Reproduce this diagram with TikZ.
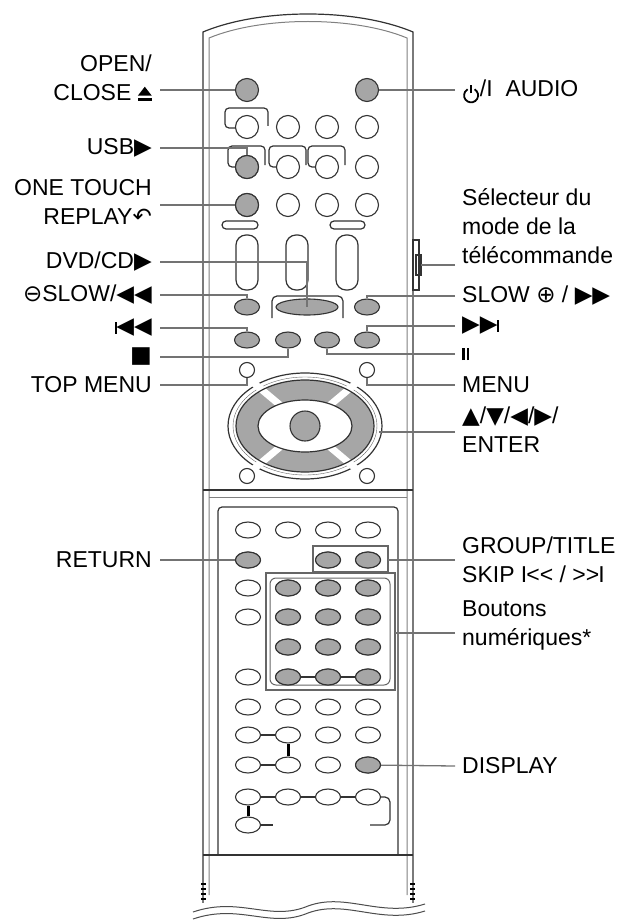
\documentclass[tikz,border=0pt]{standalone}
\usepackage{fontspec}
\setmainfont{Liberation Sans}
\newfontfamily\symf{DejaVu Sans}
\usetikzlibrary{shapes.geometric}
\newcommand{\sy}[1]{{\symf\fontsize{23}{23}\selectfont #1}}
\newcommand{\vbar}{\rule{2.5pt}{12pt}}
\newcommand{\pwr}{\tikz[baseline=-1pt,x=1pt,y=1pt,line width=1.8pt]{\draw (60:7) arc (60:-240:7);\draw (0,2) -- (0,10);}}
\newcommand{\ejectsym}{\tikz[baseline=0pt,x=1pt,y=1pt]{\fill (0,5) -- (14,5) -- (7,14) -- cycle; \fill (0,0) rectangle (14,2.5);}}
\begin{document}
\begin{tikzpicture}[x=1pt,y=-1pt,
    every node/.style={font=\fontsize{23}{29}\selectfont},
    lead/.style={draw=black!55, line width=1.3pt},
    rbtn/.style={circle, draw=black!80, line width=1.1pt, fill=white, inner sep=0pt, minimum size=23pt},
    obtn/.style={ellipse, draw=black!80, line width=1.1pt, fill=white, inner sep=0pt, minimum width=25pt, minimum height=16pt},
    gray/.style={fill=black!35},
    lbl/.style={anchor=east, align=right, inner sep=0pt},
    rlbl/.style={anchor=west, align=left, inner sep=0pt},
    body/.style={draw=black!80, line width=1.2pt}]
\useasboundingbox (0,0) rectangle (642,923);
% remote body
\draw[body] (203,907) -- (203,32) .. controls (260,8) and (356,8) .. (413,32) -- (413,907);
\draw[black!50, line width=1pt] (209,895) -- (209,38) .. controls (262,16) and (354,16) .. (407,38) -- (407,895);
\draw[body] (203,490) -- (413,490);
\draw[black!50] (209,497) -- (407,497);
\draw[body, rounded corners=4pt] (218,855) -- (218,507) -- (398,507) -- (398,855);
\draw[body] (203,855) -- (413,855);
\foreach \y in {884,889,894,899} {\draw[line width=1.3pt] (201,\y) -- (206,\y); \draw[line width=1.3pt] (410,\y) -- (415,\y);}
\fill[white] (190,903) rectangle (430,923);
\draw[black!70, line width=1pt] (193,912) .. controls (240,896) and (270,922) .. (308,906) .. controls (346,892) and (380,918) .. (425,904);
\draw[black!70, line width=1pt] (193,919) .. controls (240,903) and (270,929) .. (308,913) .. controls (346,899) and (380,925) .. (425,911);
% mode switch
\draw[body, fill=white] (413,240) rectangle (419,290);
\draw[body] (416,255) rectangle (421,275);
\coordinate (sw) at (421,265);
% top section brackets and bars
\draw[body, rounded corners=4pt] (247,128) -- (225,128) -- (225,108) -- (268,108) -- (268,126);
\foreach \x in {247,288,327} \draw[body, rounded corners=4pt] (\x,167) -- (\x-19,167) -- (\x-19,146) -- (\x+18,146) -- (\x+18,165);
\draw[body, rounded corners=4pt, fill=white] (222,221) rectangle (258,229);
\draw[body, rounded corners=4pt, fill=white] (330,221) rectangle (365,229);
\foreach \x in {247,297,347} \draw[body, rounded corners=10pt] (\x-11,235) rectangle (\x+11,290);
\draw[body, rounded corners=5pt, fill=white] (272,318) -- (272,296) -- (343,296) -- (343,318);
% top circles
\node[rbtn, gray] (t11) at (247,90) {};
\node[rbtn, gray] (t14) at (367,90) {};
\foreach \r/\y in {2/127,3/167,4/205}
  \foreach \c/\x in {1/247,2/288,3/327,4/367}
    \node[rbtn] (t\r\c) at (\x,\y) {};
\node[rbtn, gray] at (t31) {};
\node[rbtn, gray] at (t41) {};
% slow / skip ovals
\node[obtn, gray] (slowl) at (247,307) {};
\node[obtn, gray] (slowr) at (367,307) {};
\node[obtn, gray, minimum width=62pt] (dvd) at (307,307) {};
\foreach \c/\x in {1/247,2/288,3/327,4/367}
  \node[obtn, gray] (k\c) at (\x,340) {};
% cursor ring
\node[ellipse, body, fill=white, minimum width=154pt, minimum height=106pt] (ring) at (305,426) {};
\draw[black!60] (305,426) ellipse (72pt and 49pt);
\fill[black!35, even odd rule] (305,426) ellipse (69pt and 46pt) (305,426) ellipse (47pt and 26pt);
\foreach \a in {40,140,220,320} \draw[white, line width=7pt] (305,426) -- ++(\a:85pt);
\draw[body] (305,426) ellipse (47pt and 26pt);
\draw[body] (305,426) ellipse (69pt and 46pt);
\node[rbtn, gray, minimum size=30pt] (enter) at (305,426) {};
\coordinate (ringe) at (379,432);
\node[rbtn, minimum size=15pt] (tmenu) at (247,370) {};
\node[rbtn, minimum size=15pt] (menu) at (367,370) {};
\node[rbtn, minimum size=15pt] (bl) at (247,476) {};
\node[rbtn, minimum size=15pt] (br) at (367,476) {};
% bottom section
\foreach \r/\y/\cs in {1/530/{1,2,3,4},2/560/{1,3,4},3/588/{1,2,3,4},4/617/{1,2,3,4},5/647/{2,3,4},6/677/{1,2,3,4},7/707/{1,2,3,4},8/735/{1,2,3,4},9/765/{1,2,3,4},10/797/{1,2,3,4},11/825/{1}}
  \foreach \c in \cs
    \node[obtn] (b\r\c) at (208+40*\c,\y) {};
\node[obtn, gray] (ret) at (b21) {};
\node[obtn, gray] (grp1) at (b23) {};
\node[obtn, gray] (grp2) at (b24) {};
\node[obtn, gray] (disp) at (b94) {};
\draw[body] (b62) -- (b63) -- (b64);
\draw[body] (b81) -- (b82);
\draw[body] (b91) -- (b92);
\draw[line width=3pt] (b82.south) -- (b92.north);
\draw[body] (b101) -- (b102) -- (b103) -- (b104);
\draw[line width=3pt] (b101.south) -- (b111.north);
\draw[body] (b111.east) -- ++(12,0);
\draw[body, rounded corners=5pt] (b104.east) -- (390,797) -- (390,825) -- (370,825);
\draw[black!60, line width=1.5pt] (313,546) rectangle (388,572);
\draw[black!60, line width=1.5pt] (266,573) rectangle (395,690);
\draw[black!60, rounded corners=6pt, line width=1pt] (270,578) rectangle (390,685);
\foreach \r in {3,4,5,6} \foreach \c in {2,3,4} \node[obtn, gray] at (b\r\c) {};
% left labels
\node[lbl] (lopen) at (152,78) {OPEN/\\CLOSE \ejectsym};
\node[lbl] (lusb) at (152,148) {USB\sy{▶}};
\node[lbl] (lone) at (152,202) {ONE TOUCH\\REPLAY\sy{↶}};
\node[lbl] (ldvd) at (152,262) {DVD/CD\sy{▶}};
\node[lbl] (lslow) at (152,295) {\sy{⊖}SLOW/\sy{◀◀}};
\node[lbl] (lprev) at (152,328) {\vbar\kern-1pt\sy{◀◀}};
\node[lbl] (lstop) at (152,357) {\sy{■}};
\node[lbl] (ltop) at (152,385) {TOP MENU};
\node[lbl] (lret) at (152,560) {RETURN};
\draw[lead] (160,90) -- (t11);
\draw[lead] (160,148) -| (t31.north);
\draw[lead] (160,205) -- (t41);
\draw[lead] (160,262) -| (dvd.center);
\draw[lead] (160,295) -| (slowl.north);
\draw[lead] (160,328) -| (k1.north);
\draw[lead] (160,357) -| (k2.south);
\draw[lead] (160,385) -| (tmenu.south);
\draw[lead] (160,560) -- (ret);
% right labels
\node[rlbl] (raud) at (462,92) {\pwr/I\ \ AUDIO};
\node[rlbl] (rsel) at (462,226) {Sélecteur du\\mode de la\\télécommande};
\node[rlbl] (rslow) at (462,296) {SLOW \sy{⊕} / \sy{▶▶}};
\node[rlbl] (rnext) at (462,326) {\sy{▶▶}\kern-1pt\vbar};
\node[rlbl] (rpause) at (462,354) {\vbar\kern2pt\vbar};
\node[rlbl] (rmenu) at (462,385) {MENU};
\node[rlbl] (renter) at (462,430) {\sy{▲}/\sy{▼}/\sy{◀}/\sy{▶}/\\ENTER};
\node[rlbl] (rgrp) at (462,560) {GROUP/TITLE\\SKIP I\kern-1pt<\kern0pt< / >\kern0pt>\kern-1pt I};
\node[rlbl] (rnum) at (462,625) {Boutons\\numériques*};
\node[rlbl] (rdisp) at (462,766) {DISPLAY};
\draw[lead] (455,90) -- (t14);
\draw[lead] (455,265) -- (sw);
\draw[lead] (455,296) -| (slowr.north);
\draw[lead] (455,326) -| (k4.north);
\draw[lead] (455,354) -| (k3.south);
\draw[lead] (455,385) -| (menu.south);
\draw[lead] (455,432) -- (ringe);
\draw[lead] (455,560) -- (388,560);
\draw[lead] (455,633) -- (395,633);
\draw[lead] (455,766) -- (disp);
\end{tikzpicture}
\end{document}
